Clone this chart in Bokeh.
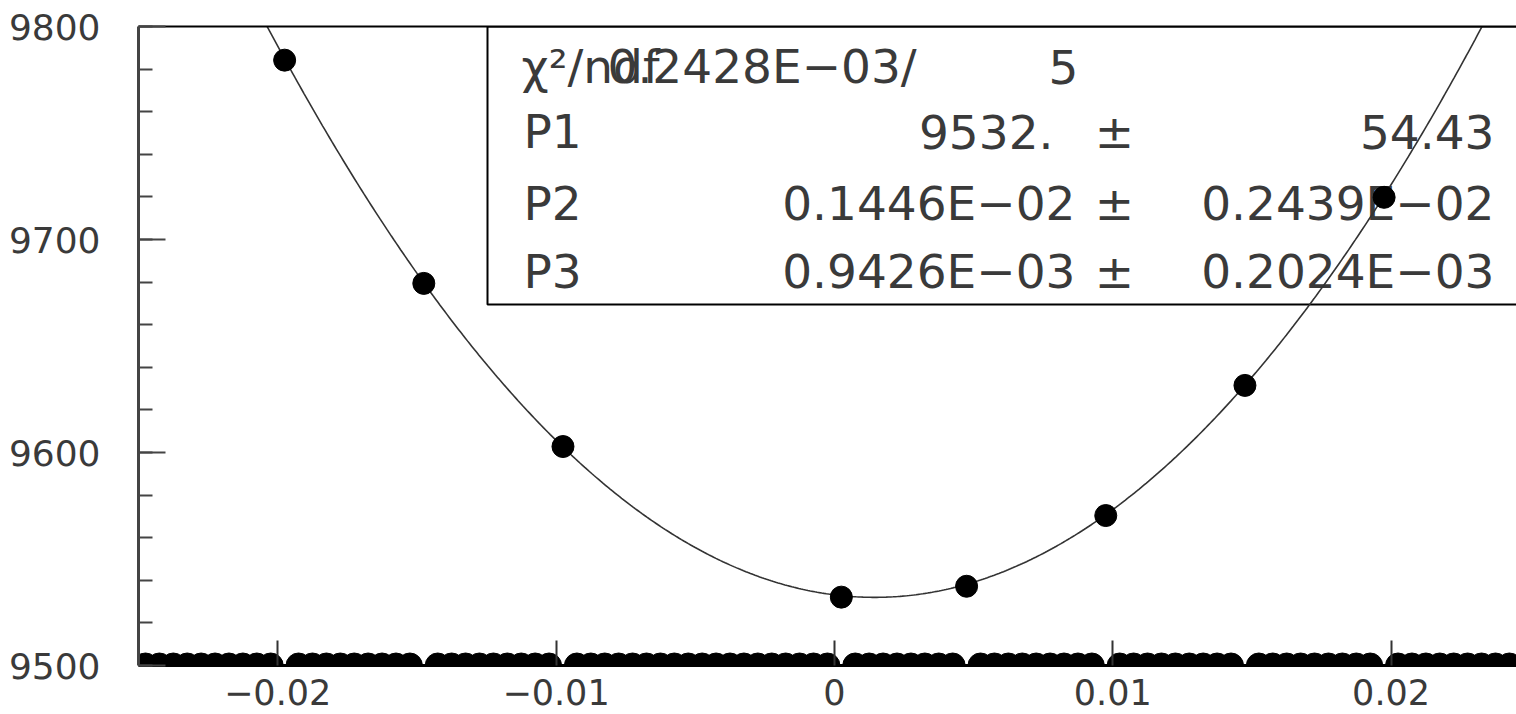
import numpy as np
from bokeh.plotting import figure
from bokeh.models import Range1d, FixedTicker, LinearAxis, BoxAnnotation, Label
from bokeh.embed import file_html
from bokeh.resources import INLINE

# ---------------- data ----------------
# measured points (histogram bins with content)
x_data = [-0.01975, -0.01475, -0.00975, 0.00025, 0.00475, 0.00975, 0.01475, 0.01975]
y_data = [9784.2, 9679.4, 9602.8, 9532.1, 9537.2, 9570.4, 9631.5, 9719.8]

# fit result shown in the stats box
fit_params = [9532.0, 0.1446e-02, 0.9426e-03]
stat_names = ["P1", "P2", "P3"]
stat_values = ["9532.", "0.1446E\u221202", "0.9426E\u221203"]
stat_errors = ["54.43", "0.2439E\u221202", "0.2024E\u221203"]
chi2_text = "0.2428E\u221203/"
ndf_text = "5"

# histogram definition (bins from -0.025 to 0.025)
hist_lo, hist_hi, n_bins = -0.025, 0.025, 100

# axes
x_ticks = [-0.02, -0.01, 0.0, 0.01, 0.02]
x_tick_labels = ["\u22120.02", "\u22120.01", "0", "0.01", "0.02"]
y_ticks = [9500, 9600, 9700, 9800]
y_tick_labels = ["9500", "9600", "9700", "9800"]

X0 = -0.025
Y0, Y1 = 9500, 9800

# ---------------- layout ----------------
CW, CH = 1516, 714
FL, FT, FH = 138, 26, 639      # frame position (pixels)
FW = CW - FL
PX_PER_X = 27835.0             # horizontal scale of the reference
X1 = X0 + FW / PX_PER_X

def px2x(px):
    return X0 + (px - FL) / FW * (X1 - X0)

def py2y(py):
    return Y1 - (py - FT) / FH * (Y1 - Y0)

p = figure(width=CW, height=CH, output_backend="svg", toolbar_location=None,
           x_range=Range1d(X0, X1), y_range=Range1d(Y0, Y1),
           min_border_left=FL, min_border_top=FT,
           min_border_bottom=CH - FT - FH, min_border_right=0)
p.outline_line_color = None
p.xgrid.visible = False
p.ygrid.visible = False
p.background_fill_color = "white"
p.border_fill_color = "white"

FONT = "DejaVu Sans"
TXT = "#3a3a3a"

xa = p.xaxis[0]
xa.ticker = FixedTicker(ticks=x_ticks, minor_ticks=[])
xa.major_label_overrides = {t: l for t, l in zip(x_ticks, x_tick_labels)}
xa.major_label_text_font = FONT
xa.major_label_text_font_size = "35px"
xa.major_label_text_color = TXT
xa.major_label_text_line_height = 1.0
xa.major_label_standoff = 13
xa.major_tick_in = 25
xa.major_tick_out = 0
xa.major_tick_line_width = 2
xa.major_tick_line_color = "#333333"
xa.axis_line_color = "black"
xa.axis_line_width = 3

ya = p.yaxis[0]
ya.ticker = FixedTicker(ticks=y_ticks, minor_ticks=list(range(9500, 9801, 20)))
ya.major_label_overrides = {t: l for t, l in zip(y_ticks, y_tick_labels)}
ya.major_label_text_font = FONT
ya.major_label_text_font_size = "36px"
ya.major_label_text_color = TXT
ya.major_label_standoff = 38
ya.major_tick_in = 27
ya.major_tick_out = 0
ya.minor_tick_in = 14
ya.minor_tick_out = 0
ya.major_tick_line_width = 2
ya.minor_tick_line_width = 2
ya.major_tick_line_color = "#444444"
ya.minor_tick_line_color = "#444444"
ya.axis_line_color = "#444444"
ya.axis_line_width = 3

top = LinearAxis(ticker=FixedTicker(ticks=[]), major_label_text_font_size="0px",
                 axis_line_color="black", axis_line_width=2,
                 major_tick_line_color=None, minor_tick_line_color=None)
p.add_layout(top, "above")
p.min_border_top = FT

# ---------------- stats box ----------------
box = BoxAnnotation(left=px2x(487), bottom=py2y(304), top=Y1, right=X1 + 0.002,
                    fill_color="white", fill_alpha=1.0, line_color="black",
                    line_alpha=1.0, line_width=2, level="underlay")
p.add_layout(box)

BOX_FS = "47px"

def add_label(text, px, py, align):
    p.add_layout(Label(x=px2x(px), y=py2y(py), text=text, text_align=align,
                       text_baseline="middle", text_font=FONT, text_font_size=BOX_FS,
                       text_color=TXT, level="underlay"))

add_label("\u03c7\u00b2/ndf", 521, 66, "left")
add_label(chi2_text, 607, 66, "left")
add_label(ndf_text, 1048, 66, "left")
row_y = [131, 203, 271]
val_right = [1053, 1075, 1075]
for name, val, err, ry, vr in zip(stat_names, stat_values, stat_errors, row_y, val_right):
    add_label(name, 523, ry, "left")
    add_label(val, vr, ry, "right")
    add_label("\u00b1", 1114, ry, "center")
    add_label(err, 1494, ry, "right")

# ---------------- fit curve ----------------
P1, P2, P3 = fit_params
xc = np.linspace(X0, X1, 600)
yc = P1 + (xc - P2) ** 2 / (2.0 * P3 ** 2)
p.line(xc, yc, line_color="#333333", line_width=1.6)

# ---------------- histogram markers ----------------
bin_w = (hist_hi - hist_lo) / n_bins
centers = hist_lo + bin_w * (np.arange(n_bins) + 0.5)
data_idx = set(int(round((x - hist_lo) / bin_w - 0.5)) for x in x_data)
empty_x = [c for i, c in enumerate(centers) if i not in data_idx]
empty_y = [Y0] * len(empty_x)   # zero content, clipped at frame bottom
p.scatter(empty_x, empty_y, size=25, marker="circle", fill_color="black", line_color="black")

p.scatter(x_data, y_data, size=22, marker="circle", fill_color="black", line_color="black")

open("out.html", "w").write(file_html(p, INLINE))
